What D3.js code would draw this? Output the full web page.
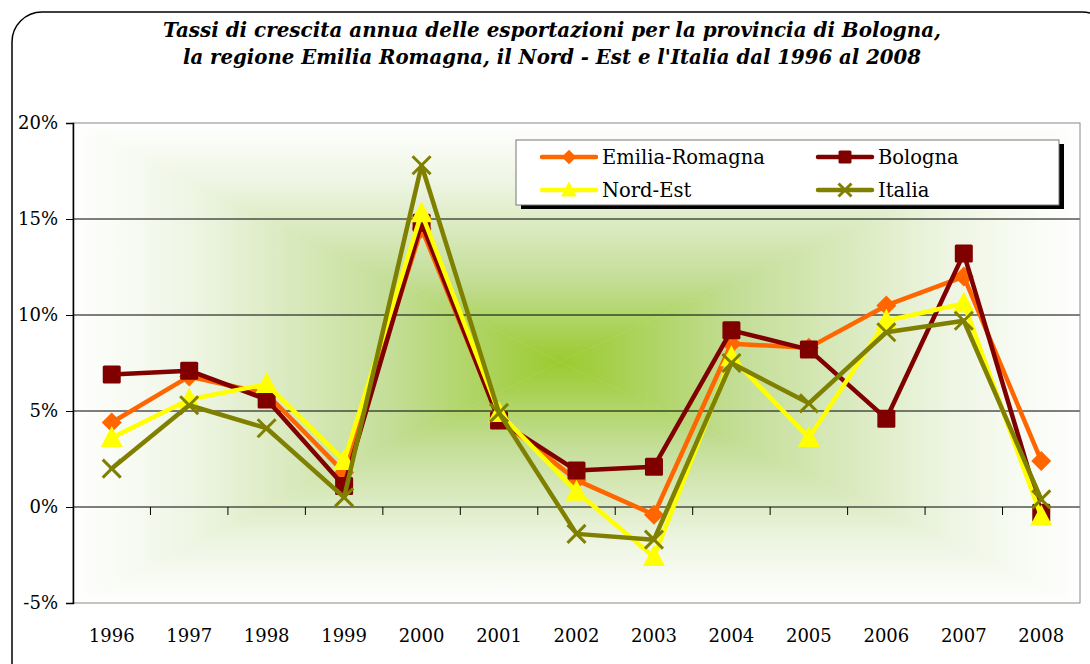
<html>
<head>
<meta charset="utf-8">
<script src="https://d3js.org/d3.v7.min.js"></script>
<style>
  body { margin: 0; background: #fff; }
  svg { display: block; }
</style>
</head>
<body>
<svg width="1090" height="664"></svg>
<script>
var years = ["1996","1997","1998","1999","2000","2001","2002","2003","2004","2005","2006","2007","2008"];
var emiliaRomagna = [4.4, 6.8, 5.9, 1.8, 14.5, 4.6, 1.4, -0.4, 8.5, 8.3, 10.5, 12.0, 2.4];
var bologna       = [6.9, 7.1, 5.6, 1.1, 14.8, 4.5, 1.9, 2.1, 9.2, 8.2, 4.6, 13.2, -0.3];
var nordEst       = [3.6, 5.6, 6.4, 2.4, 15.3, 4.9, 0.8, -2.6, 7.8, 3.6, 9.7, 10.6, -0.5];
var italia        = [2.0, 5.3, 4.1, 0.5, 17.8, 4.9, -1.4, -1.7, 7.5, 5.4, 9.1, 9.7, 0.4];
var yTicks = [-5, 0, 5, 10, 15, 20];

var series = [
  {name: "Emilia-Romagna", values: emiliaRomagna, color: "#ff6600", marker: "diamond"},
  {name: "Bologna", values: bologna, color: "#800000", marker: "square"},
  {name: "Nord-Est", values: nordEst, color: "#ffff00", marker: "triangle"},
  {name: "Italia", values: italia, color: "#808000", marker: "cross"}
];

var svg = d3.select("svg");
var pLeft = 73, pRight = 1080, pTop = 123, pBottom = 603;

var x = d3.scaleBand().domain(years).range([pLeft, pRight]);
var y = d3.scaleLinear().domain([-5, 20]).range([pBottom, pTop]);

// outer frame
svg.append("rect")
  .attr("x", 12).attr("y", 12).attr("width", 1100).attr("height", 680)
  .attr("rx", 30).attr("fill", "#fff").attr("stroke", "#000").attr("stroke-width", 1.5);

// title
var title = svg.append("text")
  .attr("text-anchor", "middle")
  .attr("font-family", "'DejaVu Serif', serif")
  .attr("font-weight", "bold").attr("font-style", "italic")
  .attr("font-size", 19.5).attr("fill", "#000");
title.append("tspan").attr("x", 552).attr("y", 37).attr("textLength", 778).attr("lengthAdjust", "spacingAndGlyphs")
  .text("Tassi di crescita annua delle esportazioni per la provincia di Bologna,");
title.append("tspan").attr("x", 552).attr("y", 64).attr("textLength", 738).attr("lengthAdjust", "spacingAndGlyphs")
  .text("la regione Emilia Romagna, il Nord - Est e l'Italia dal 1996 al 2008");

// background: rectangular gradient from the centre (four triangles)
var defs = svg.append("defs");
var cx = 560, cy = 362;
function grad(id, x1, y1, x2, y2) {
  var g = defs.append("linearGradient").attr("id", id)
    .attr("gradientUnits", "userSpaceOnUse")
    .attr("x1", x1).attr("y1", y1).attr("x2", x2).attr("y2", y2);
  g.append("stop").attr("offset", 0).attr("stop-color", "#ffffff");
  g.append("stop").attr("offset", 0.25).attr("stop-color", "#eef5e3");
  g.append("stop").attr("offset", 0.65).attr("stop-color", "#c4de98");
  g.append("stop").attr("offset", 1).attr("stop-color", "#9acb2f");
}
grad("gT", 0, pTop, 0, cy);
grad("gB", 0, pBottom, 0, cy);
grad("gL", pLeft, 0, cx, 0);
grad("gR", pRight, 0, cx, 0);
var tris = [
  {id: "gT", pts: [[pLeft, pTop], [pRight, pTop], [cx, cy]]},
  {id: "gB", pts: [[pLeft, pBottom], [pRight, pBottom], [cx, cy]]},
  {id: "gL", pts: [[pLeft, pTop], [pLeft, pBottom], [cx, cy]]},
  {id: "gR", pts: [[pRight, pTop], [pRight, pBottom], [cx, cy]]}
];
svg.append("g").selectAll("path").data(tris).join("path")
  .attr("d", d => "M" + d.pts.join("L") + "Z")
  .attr("fill", d => "url(#" + d.id + ")")
  .attr("stroke", d => "url(#" + d.id + ")").attr("stroke-width", 0.5);

// gridlines
svg.append("g").selectAll("line").data([0, 5, 10, 15]).join("line")
  .attr("x1", pLeft).attr("x2", pRight)
  .attr("y1", d => y(d)).attr("y2", d => y(d))
  .attr("stroke", "#000").attr("stroke-width", 1);

// plot border
svg.append("rect")
  .attr("x", pLeft).attr("y", pTop).attr("width", pRight - pLeft).attr("height", pBottom - pTop)
  .attr("fill", "none").attr("stroke", "#888").attr("stroke-width", 1);

// y axis
var yAxis = d3.axisLeft(y).tickValues(yTicks).tickSize(7).tickPadding(8).tickFormat(d => d + "%");
var gy = svg.append("g").attr("transform", "translate(" + pLeft + ",0)").call(yAxis);
gy.select(".domain").attr("stroke", "#000").attr("stroke-width", 1.5);
gy.selectAll(".tick line").attr("stroke", "#000");
gy.selectAll("text").attr("font-family", "'DejaVu Serif', serif").attr("font-size", 18).attr("fill", "#000");

// x axis: ticks at category boundaries on the 0 line, labels at bottom
var bounds = years.slice(1).map(d => x(d));
svg.append("g").selectAll("line").data(bounds).join("line")
  .attr("x1", d => d).attr("x2", d => d)
  .attr("y1", y(0)).attr("y2", y(0) + 8)
  .attr("stroke", "#000");
svg.append("g").selectAll("text").data(years).join("text")
  .attr("x", d => x(d) + x.bandwidth() / 2)
  .attr("y", 642)
  .attr("text-anchor", "middle")
  .attr("font-family", "'DejaVu Serif', serif").attr("font-size", 18).attr("fill", "#000")
  .text(d => d);

// markers
function drawMarker(g, type, color, size) {
  var s = size || 1;
  if (type === "diamond") {
    var r = 10 * s;
    g.append("path").attr("d", "M0," + (-r) + "L" + r + ",0L0," + r + "L" + (-r) + ",0Z").attr("fill", color);
  } else if (type === "square") {
    g.append("rect").attr("x", -9 * s).attr("y", -9 * s).attr("width", 18 * s).attr("height", 18 * s)
      .attr("rx", 1.5).attr("fill", color);
  } else if (type === "triangle") {
    g.append("path").attr("d", "M0," + (-12 * s) + "L" + (11 * s) + "," + (9 * s) + "L" + (-11 * s) + "," + (9 * s) + "Z")
      .attr("fill", color);
  } else {
    g.append("path").attr("d", "M-9,-9L9,9M-9,9L9,-9".replace(/9/g, 9 * s))
      .attr("stroke", color).attr("stroke-width", 3).attr("fill", "none");
  }
}

var line = d3.line()
  .x((d, i) => x(years[i]) + x.bandwidth() / 2)
  .y(d => y(d));

series.forEach(function (s) {
  var g = svg.append("g");
  g.append("path").attr("d", line(s.values))
    .attr("fill", "none").attr("stroke", s.color).attr("stroke-width", 4.5)
    .attr("stroke-linejoin", "round").attr("stroke-linecap", "round");
  s.values.forEach(function (v, i) {
    var m = g.append("g").attr("transform", "translate(" + (x(years[i]) + x.bandwidth() / 2) + "," + y(v) + ")");
    drawMarker(m, s.marker, s.color, 1);
  });
});

// legend
var lg = svg.append("g");
lg.append("rect").attr("x", 521).attr("y", 144).attr("width", 543).attr("height", 65).attr("fill", "#000");
lg.append("rect").attr("x", 516).attr("y", 140).attr("width", 543).attr("height", 65)
  .attr("fill", "#fff").attr("stroke", "#777").attr("stroke-width", 1);
var legendPos = [[542, 157], [818, 157], [542, 190], [818, 190]];
series.forEach(function (s, i) {
  var p = legendPos[i];
  var e = lg.append("g").attr("transform", "translate(" + p[0] + "," + p[1] + ")");
  e.append("line").attr("x1", 0).attr("x2", 54).attr("y1", 0).attr("y2", 0)
    .attr("stroke", s.color).attr("stroke-width", 4.5).attr("stroke-linecap", "round");
  var m = e.append("g").attr("transform", "translate(27,0)");
  drawMarker(m, s.marker, s.color, 0.72);
  e.append("text").attr("x", 60).attr("y", 7)
    .attr("font-family", "'DejaVu Serif', serif").attr("font-size", 19.5).attr("fill", "#000")
    .text(s.name);
});
</script>
</body>
</html>
